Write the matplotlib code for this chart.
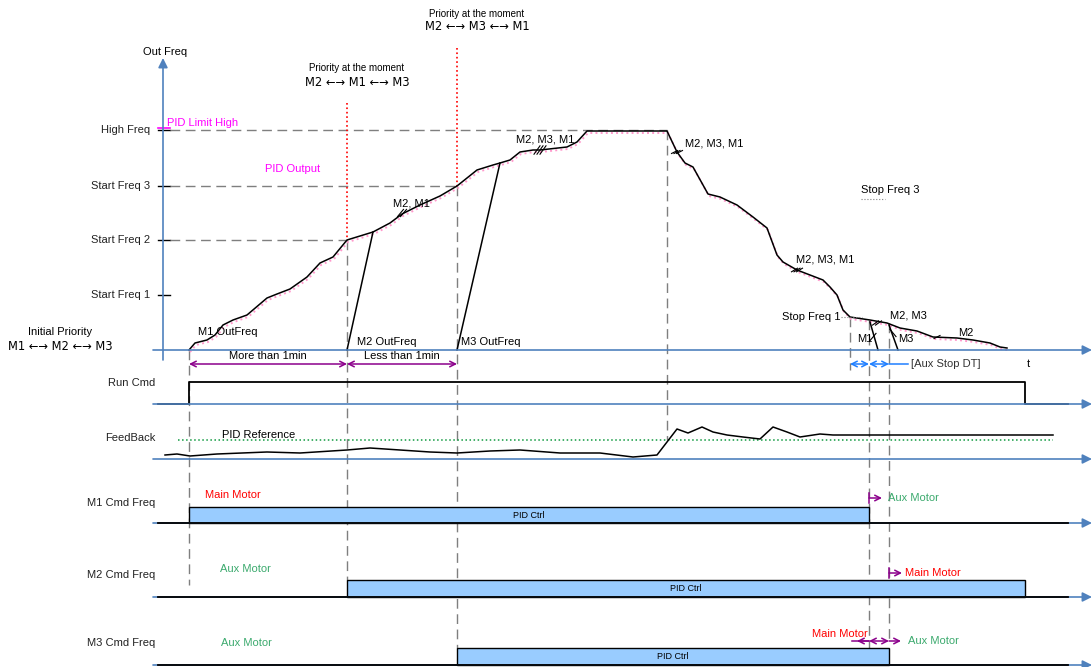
import matplotlib.pyplot as plt
import numpy as np

plt.rcParams['font.family'] = ['Liberation Sans', 'DejaVu Sans']

# --- values (pixel space, y down) ---
levels = [130, 186, 240, 295]
level_names = ['High Freq', 'Start Freq 3', 'Start Freq 2', 'Start Freq 1']
level_ends = [667, 457, 347, None]

out_x = [189, 195, 207, 215, 223, 233, 247, 267, 277, 290, 307, 320, 333, 347,
         360, 373, 390, 402, 420, 440, 457, 477, 493, 500, 510, 520, 533, 540,
         567, 577, 587, 667, 677, 685, 693, 708, 720, 737, 753, 767, 777, 783,
         797, 823, 830, 837, 843, 850, 870, 887, 900, 917, 933, 957, 973, 990,
         1000, 1007]
out_y = [350, 343, 340, 335, 325, 320, 315, 298, 294, 289, 277, 263, 257, 240,
         236, 232, 223, 214, 205, 196, 186, 170, 165, 163, 160, 152, 150, 150,
         147, 142, 131, 131, 152, 163, 167, 194, 197, 205, 217, 228, 255, 262,
         270, 280, 287, 295, 310, 317, 320, 323, 328, 331, 337, 338, 340, 343,
         347, 348]

fb_x = [165, 177, 190, 217, 267, 300, 347, 370, 400, 430, 457, 490, 520, 560,
        600, 633, 657, 677, 688, 702, 713, 727, 743, 760, 773, 787, 800, 820,
        833, 847, 1053]
fb_y = [455, 454, 456, 454, 452, 453, 450, 448, 450, 452, 453, 451, 450, 453,
        453, 457, 455, 429, 433, 427, 432, 435, 437, 439, 427, 432, 437, 434,
        435, 435, 435]

# vertical dashed guides: x, y_top, y_bottom
guides = [(189, 350, 585), (347, 240, 580), (457, 186, 648), (667, 130, 440),
          (850, 317, 370), (869, 320, 655), (889, 323, 640)]

rows = ['Run Cmd', 'FeedBack', 'M1 Cmd Freq', 'M2 Cmd Freq', 'M3 Cmd Freq']
row_base = [404, 459, 523, 597, 665]
row_label_y = [383, 438, 503, 575, 643]
bar_start = [189, 347, 457]
bar_end = [869, 1025, 889]
bar_top = [507, 580, 648]

BLUE = '#4F81BD'
GRAY = '#7F7F7F'
MAG = '#FF00FF'
GREEN = '#3CAA6E'
PURPLE = '#8B008B'
BAR = '#99CCFF'

fig = plt.figure(figsize=(10.92, 6.67), dpi=100)
ax = fig.add_axes([0, 0, 1, 1])
ax.set_xlim(0, 1092)
ax.set_ylim(667, 0)
ax.axis('off')


def harrow(y, x0=153, x1=1092):
    ax.annotate('', xy=(x1, y), xytext=(x0, y),
                arrowprops=dict(arrowstyle='-|>', color=BLUE, lw=1.2,
                                mutation_scale=14, shrinkA=0, shrinkB=0))


def arrow(x0, x1, y, style, color=PURPLE):
    ax.annotate('', xy=(x1, y), xytext=(x0, y),
                arrowprops=dict(arrowstyle=style, color=color, lw=1.1,
                                mutation_scale=10, shrinkA=0, shrinkB=0))


def bar_arrow(x0, x1, y):
    arrow(x0, x1, y, '->')
    ax.plot([x0, x0], [y - 5, y + 5], color=PURPLE, lw=1.1)


def hashes(x, y, n, dx=3, ang=1.0):
    for i in range(n):
        cx = x + (i - (n - 1) / 2) * dx
        ax.plot([cx - 3, cx + 3], [y + 3 * ang, y - 3 * ang], color='k', lw=0.8)


# out freq axis
ax.annotate('', xy=(163, 58), xytext=(163, 360),
            arrowprops=dict(arrowstyle='-|>', color=BLUE, lw=1.2,
                            mutation_scale=14, shrinkA=0, shrinkB=0))
ax.text(165, 52, 'Out Freq', ha='center', va='center', fontsize=8)
harrow(350)

for lv, name, end in zip(levels, level_names, level_ends):
    ax.plot([158, 170], [lv, lv], color='k', lw=1)
    ax.text(150, lv, name, ha='right', va='center', fontsize=8, color='#222222')
    if end:
        ax.plot([170, end], [lv, lv], color=GRAY, lw=1, ls=(0, (7, 4)))

ax.plot([158, 170], [128, 128], color=MAG, lw=1.2)
ax.text(167, 123, 'PID Limit High', ha='left', va='center', fontsize=8, color=MAG)
ax.text(265, 169, 'PID Output', ha='left', va='center', fontsize=8, color=MAG)

# red dotted priority markers
arr_font = ['DejaVu Sans']
ax.plot([347, 347], [103, 240], color='red', lw=1.2, ls=':')
ax.plot([457, 457], [48, 186], color='red', lw=1.2, ls=':')
ax.text(357, 68, 'Priority at the moment', ha='center', va='center', fontsize=7)
ax.text(357, 82, 'M2 \u2190\u2192 M1 \u2190\u2192 M3', ha='center', va='center',
        fontsize=8.3, family=arr_font)
ax.text(477, 14, 'Priority at the moment', ha='center', va='center', fontsize=7)
ax.text(477, 27, 'M2 \u2190\u2192 M3 \u2190\u2192 M1', ha='center', va='center',
        fontsize=8.3, family=arr_font)
ax.text(60, 332, 'Initial Priority', ha='center', va='center', fontsize=8)
ax.text(60, 346, 'M1 \u2190\u2192 M2 \u2190\u2192 M3', ha='center', va='center',
        fontsize=8.3, family=arr_font)

for gx, gy0, gy1 in guides:
    ax.plot([gx, gx], [gy0, gy1], color=GRAY, lw=1, ls=(0, (7, 4)))

# PID output (pink dotted) and out freq curve
ax.plot(np.array(out_x) + 1, np.array(out_y) + 2, color='#FF99CC', lw=1.4, ls=':')
ax.plot(out_x, out_y, color='k', lw=1.1)

# aux motor start / stop lines
ax.plot([347, 373], [350, 232], color='k', lw=1.1)
ax.plot([457, 500], [350, 163], color='k', lw=1.1)
ax.plot([870, 878], [322, 350], color='k', lw=1.1)
ax.plot([889, 898], [325, 350], color='k', lw=1.1)

ax.text(198, 332, 'M1 OutFreq', ha='left', va='center', fontsize=8)
ax.text(357, 342, 'M2 OutFreq', ha='left', va='center', fontsize=8)
ax.text(461, 342, 'M3 OutFreq', ha='left', va='center', fontsize=8)
ax.text(393, 203, 'M2, M1', ha='left', va='center', fontsize=8)
ax.text(516, 139, 'M2, M3, M1', ha='left', va='center', fontsize=8)
ax.text(685, 144, 'M2, M3, M1', ha='left', va='center', fontsize=8)
ax.text(796, 259, 'M2, M3, M1', ha='left', va='center', fontsize=8)
ax.text(890, 315, 'M2, M3', ha='left', va='center', fontsize=8)
ax.text(857, 339, 'M1', ha='left', va='center', fontsize=8)
ax.text(898, 339, 'M3', ha='left', va='center', fontsize=8)
ax.text(958, 333, 'M2', ha='left', va='center', fontsize=8)
ax.text(840, 317, 'Stop Freq 1', ha='right', va='center', fontsize=8)
ax.plot([841, 862], [317, 317], color=GRAY, lw=0.8, ls=':')
ax.text(861, 190, 'Stop Freq 3', ha='left', va='center', fontsize=8)
ax.plot([861, 885], [199, 199], color=GRAY, lw=0.8, ls=':')

hashes(402, 213, 2, ang=1.2)
hashes(540, 150, 3, ang=1.4)
hashes(677, 152, 3, dx=2.5, ang=0.5)
hashes(797, 270, 3, dx=2.5, ang=0.6)
hashes(877, 323, 2, ang=0.7)
hashes(873, 337, 1, ang=1.2)
hashes(893, 333, 1, ang=-1.2)
hashes(937, 337, 1, ang=0.5)

# timing arrows
arrow(347, 189, 364, '<->')
arrow(457, 347, 364, '<->')
ax.text(268, 356, 'More than 1min', ha='center', va='center', fontsize=8)
ax.text(402, 356, 'Less than 1min', ha='center', va='center', fontsize=8)

arrow(869, 850, 364, '<->', '#1F7FFF')
arrow(889, 869, 364, '<->', '#1F7FFF')
ax.plot([889, 908], [364, 364], color='#1F7FFF', lw=1.1)
ax.text(911, 364, '[Aux Stop DT]', ha='left', va='center', fontsize=8, color='#333333')
ax.text(1028, 364, 't', ha='center', va='center', fontsize=8)

# signal rows
for name, base, ly in zip(rows, row_base, row_label_y):
    harrow(base)
    ax.text(155, ly, name, ha='right', va='center', fontsize=8, color='#222222')

ax.plot([158, 189, 189, 1025, 1025, 1068], [404, 404, 382, 382, 404, 404], color='k', lw=1.3)
ax.plot([178, 1053], [440, 440], color='#109A40', lw=1.1, ls=':')
ax.text(222, 435, 'PID Reference', ha='left', va='center', fontsize=8)
ax.plot(fb_x, fb_y, color='k', lw=1.1)

for xs, xe, top, base in zip(bar_start, bar_end, bar_top, row_base[2:]):
    ax.plot([158, 1068], [base, base], color='k', lw=1.3, zorder=3)
    ax.fill([xs, xe, xe, xs], [base, base, top, top], facecolor=BAR,
            edgecolor='k', lw=1.0, zorder=2)
    ax.text((xs + xe) / 2, (base + top) / 2, 'PID Ctrl', ha='center', va='center', fontsize=6.5)

ax.text(205, 495, 'Main Motor', ha='left', va='center', fontsize=8, color='red')
ax.text(220, 569, 'Aux Motor', ha='left', va='center', fontsize=8, color=GREEN)
ax.text(221, 643, 'Aux Motor', ha='left', va='center', fontsize=8, color=GREEN)

bar_arrow(869, 882, 498)
ax.text(888, 498, 'Aux Motor', ha='left', va='center', fontsize=8, color=GREEN)
bar_arrow(889, 902, 573)
ax.text(905, 573, 'Main Motor', ha='left', va='center', fontsize=8, color='red')

ax.plot([852, 869], [641, 641], color=PURPLE, lw=1.1)
arrow(869, 857, 641, '->')
arrow(889, 869, 641, '<->')
arrow(889, 901, 641, '->')
ax.text(868, 634, 'Main Motor', ha='right', va='center', fontsize=8, color='red')
ax.text(908, 641, 'Aux Motor', ha='left', va='center', fontsize=8, color=GREEN)

fig.savefig('out.png', dpi=100)
